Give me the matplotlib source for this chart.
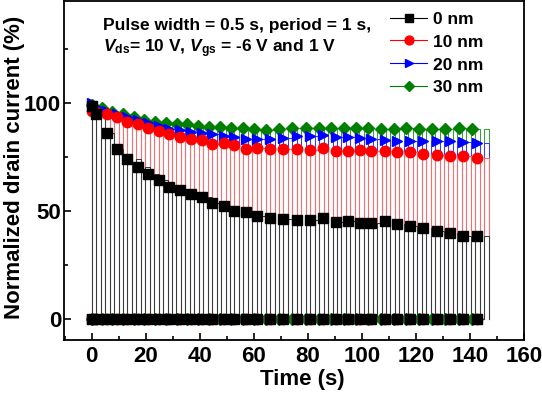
import numpy as np
import matplotlib
matplotlib.use('Agg')
import matplotlib.pyplot as plt
from matplotlib.ticker import MultipleLocator
from matplotlib.lines import Line2D

plt.rcParams['font.family'] = ['Liberation Sans', 'DejaVu Sans']
plt.rcParams['font.weight'] = 'bold'
plt.rcParams['mathtext.fontset'] = 'custom'
plt.rcParams['mathtext.rm'] = 'Liberation Sans:bold'
plt.rcParams['mathtext.it'] = 'Liberation Sans:bold:italic'
plt.rcParams['mathtext.bf'] = 'Liberation Sans:bold'

# ---- data ----
t_mark = [0, 1.5, 5.5, 9.3, 13.1, 17.0, 20.8, 24.7, 28.6, 32.7, 36.7, 40.7, 44.6,
          48.8, 52.8, 57.2, 61.3, 65.9, 70.8, 75.8, 80.6, 85.5, 90.2, 94.7, 99.1,
          103.5, 108.5, 113.0, 117.9, 122.7, 127.6, 132.5, 137.5, 142.4]
i_0nm = [98.5, 95, 86.1, 78.7, 74.1, 70.4, 67.1, 64.4, 61.1, 59.7, 57.9, 56.5, 53.7,
         52.3, 50.0, 49.5, 47.7, 46.8, 46.5, 46.0, 45.8, 46.6, 45.1, 45.5, 44.3,
         44.3, 45.4, 43.8, 43.0, 42.0, 40.7, 39.7, 38.4, 38.6]
i_10nm = [96.5, 96, 94.8, 93.3, 91.4, 90.1, 88.3, 87.0, 85.6, 84.4, 83.3, 82.9, 80.9,
          81.3, 80.4, 78.8, 79.0, 78.6, 78.5, 78.5, 78.2, 79.3, 77.9, 77.8, 78.2,
          77.9, 77.8, 77.5, 77.2, 76.4, 75.9, 75.5, 75.6, 74.7]
i_20nm = [100, 98, 96.5, 95, 93.5, 92, 90.8, 89.4, 87.8, 87.5, 86.7, 86.0, 85.6,
          84.7, 84.1, 83.2, 83.2, 83.2, 84.0, 84.5, 84.7, 85.2, 84.1, 84.1, 83.6,
          83.3, 82.9, 82.6, 82.6, 82.6, 82.6, 82.6, 82.1, 81.3]
t_mark_30 = [0, 3.9, 7.6, 11.6, 15.5, 19.4, 23.5, 27.5, 31.4, 35.1, 39.4, 43.4, 47.3,
             51.6, 55.9, 60.2, 64.5, 69.2, 74.0, 79.1, 84.0, 88.6, 93.2, 97.7, 102.4,
             107.0, 111.8, 116.4, 121.1, 126.0, 130.9, 135.8, 140.6]
i_30nm = [99, 97.5, 96, 94.8, 93.3, 92.1, 91.4, 90.6, 90.3, 90.3, 89.5, 89.0, 89.0,
          88.6, 88.3, 87.8, 87.5, 88.0, 88.3, 88.3, 88.3, 88.6, 88.3, 88.3, 88.3,
          88.0, 88.0, 88.3, 88.0, 88.0, 88.0, 88.3, 88.0]
labels = ['0 nm', '10 nm', '20 nm', '30 nm']
colors = ['black', 'red', 'blue', 'green']
markers = ['s', 'o', '>', 'D']

pulse_starts = np.arange(0.0, 146.0, 3.3)
pulse_width = 1.65


def pulse_train(tm, vals):
    tm = np.asarray(tm)
    vals = np.asarray(vals)
    xs, ys = [], []
    for s in pulse_starts:
        k = max(np.searchsorted(tm, s, side='right') - 1, 0)
        v = vals[k]
        xs += [s, s, s + pulse_width, s + pulse_width]
        ys += [0, v, v, 0]
    return xs, ys


fig = plt.figure(figsize=(5.42, 3.96), dpi=100)
ax = fig.add_axes([0.118, 0.1414, 0.849, 0.856])

series = [(t_mark, i_0nm), (t_mark, i_10nm), (t_mark, i_20nm), (t_mark_30, i_30nm)]
line_colors = ['#3a3a3a', '#ff6a6a', '#3a3aff', '#3aa03a']
order = [3, 2, 1, 0]
for idx in order:
    tm, vals = series[idx]
    xs, ys = pulse_train(tm, vals)
    ax.plot(xs, ys, color=line_colors[idx], lw=0.75, zorder=2)
msizes = [6.5, 7.5, 7.5, 6.0]
for idx in order:
    tm, vals = series[idx]
    ax.plot(tm, vals, ls='none', marker=markers[idx], color=colors[idx],
            ms=msizes[idx], mec=colors[idx], zorder=3)
    ax.plot(tm, np.zeros(len(tm)), ls='none', marker=markers[idx], color=colors[idx],
            ms=msizes[idx], mec=colors[idx], zorder=3)

handles = [Line2D([], [], color=colors[i], lw=0.8, marker=markers[i],
                  ms=msizes[i] * 0.85) for i in range(4)]
ax.legend(handles, labels, loc='upper right', bbox_to_anchor=(0.935, 1.0),
          frameon=False, fontsize=12.5, handlelength=2.15, labelspacing=0.45,
          handletextpad=0.35, borderaxespad=0.2)

ax.text(0.085, 0.929, 'Pulse width = 0.5 s, period = 1 s,', transform=ax.transAxes,
        fontsize=12.5, fontweight='bold', va='center', ha='left')
ax.text(0.085, 0.858, r'$V_{\rm ds}$= 10 V, $V_{\rm gs}$ = -6 V and 1 V',
        transform=ax.transAxes, fontsize=12.5, fontweight='bold', va='center', ha='left')

ax.set_xlim(-10.3, 160)
ax.set_ylim(-9.7, 147.2)
ax.xaxis.set_major_locator(MultipleLocator(20))
ax.xaxis.set_minor_locator(MultipleLocator(10))
ax.set_yticks([0, 50, 100])
ax.yaxis.set_minor_locator(MultipleLocator(25))
ax.tick_params(which='both', direction='in', width=1.2, top=False, right=False,
               labelsize=16)
ax.tick_params(which='major', length=5)
ax.tick_params(which='minor', length=3)
ax.tick_params(axis='x', pad=4.5)
ax.tick_params(axis='y', pad=2)
for sp in ax.spines.values():
    sp.set_linewidth(1.3)

ax.set_xlabel('Time (s)', fontsize=16, fontweight='bold')
ax.xaxis.set_label_coords(0.517, -0.087)
ax.set_ylabel('Normalized drain current (%)', fontsize=16, fontweight='bold')
ax.yaxis.set_label_coords(-0.085, 0.51)

fig.savefig('out.png', dpi=100)
